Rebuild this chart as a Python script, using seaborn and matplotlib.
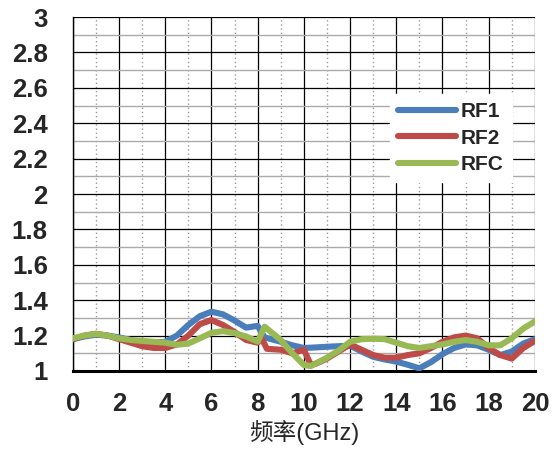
import pandas as pd
import matplotlib
matplotlib.use("Agg")
import matplotlib.pyplot as plt
from matplotlib.ticker import MultipleLocator
import seaborn as sns

#---data---
rf1_x = [0, 0.5, 1, 1.5, 2, 2.5, 3, 3.5, 4, 4.5, 5, 5.5, 6, 6.5, 7, 7.5, 8, 8.3, 9, 9.5,
         10, 10.5, 11, 11.5, 12, 12.5, 13, 13.5, 14, 14.5, 15, 15.5, 16, 16.5, 17, 17.5,
         18, 18.5, 19, 19.5, 20]
rf1_y = [1.18, 1.195, 1.205, 1.2, 1.19, 1.175, 1.16, 1.16, 1.165, 1.2, 1.26, 1.31, 1.335,
         1.32, 1.285, 1.245, 1.255, 1.19, 1.165, 1.145, 1.13, 1.133, 1.137, 1.14, 1.143,
         1.11, 1.08, 1.065, 1.053, 1.035, 1.015, 1.05, 1.095, 1.13, 1.15, 1.145, 1.12,
         1.09, 1.11, 1.155, 1.18]

rf2_x = [0, 0.5, 1, 1.5, 2, 2.5, 3, 3.5, 4, 4.5, 5, 5.5, 6, 6.5, 7, 7.5, 8, 8.15, 8.4, 9,
         9.5, 10, 10.3, 10.5, 11, 11.5, 12, 12.5, 13, 13.5, 14, 14.5, 15, 15.5, 16, 16.5,
         17, 17.5, 18, 18.5, 19, 19.5, 20]
rf2_y = [1.18, 1.2, 1.21, 1.2, 1.18, 1.16, 1.14, 1.13, 1.13, 1.15, 1.2, 1.265, 1.288,
         1.26, 1.22, 1.175, 1.16, 1.19, 1.125, 1.12, 1.10, 1.12, 1.035, 1.04, 1.07, 1.11,
         1.15, 1.12, 1.09, 1.075, 1.075, 1.09, 1.10, 1.13, 1.165, 1.19, 1.20, 1.185, 1.13,
         1.09, 1.07, 1.13, 1.17]

rfc_x = [0, 0.5, 1, 1.5, 2, 2.5, 3, 3.5, 4, 4.5, 5, 5.5, 6, 6.5, 7, 7.5, 8, 8.3, 9, 9.5,
         10, 10.3, 11, 11.5, 12, 12.5, 13, 13.5, 14, 14.5, 15, 15.5, 16, 16.5, 17, 17.5,
         18, 18.5, 19, 19.5, 20]
rfc_y = [1.185, 1.2, 1.21, 1.2, 1.185, 1.175, 1.17, 1.165, 1.16, 1.148, 1.155, 1.185,
         1.216, 1.225, 1.214, 1.195, 1.166, 1.25, 1.175, 1.10, 1.034, 1.028, 1.075, 1.115,
         1.165, 1.18, 1.182, 1.18, 1.16, 1.14, 1.13, 1.14, 1.15, 1.165, 1.175, 1.165,
         1.145, 1.145, 1.185, 1.24, 1.28]

series = ["RF1", "RF2", "RFC"]
colors = {"RF1": "#4A7EBB", "RF2": "#BE4B48", "RFC": "#98B954"}

df = pd.concat([
    pd.DataFrame({"freq": rf1_x, "val": rf1_y, "name": "RF1"}),
    pd.DataFrame({"freq": rf2_x, "val": rf2_y, "name": "RF2"}),
    pd.DataFrame({"freq": rfc_x, "val": rfc_y, "name": "RFC"}),
])

#---plot---
sns.set_style("white")
plt.rcParams["font.family"] = ["Liberation Sans", "Noto Sans CJK SC"]

fig = plt.figure(figsize=(5.52, 4.5), dpi=100)
ax = fig.add_axes([0.132, 0.1756, 0.837, 0.7864])

sns.lineplot(data=df, x="freq", y="val", hue="name", hue_order=series,
             palette=colors, estimator=None, sort=False, linewidth=4.4,
             solid_capstyle="round", solid_joinstyle="round", ax=ax, zorder=3)

ax.set_xlim(0, 20)
ax.set_ylim(1, 3)
ax.xaxis.set_major_locator(MultipleLocator(2))
ax.xaxis.set_minor_locator(MultipleLocator(1))
ax.yaxis.set_minor_locator(MultipleLocator(0.1))
ax.set_yticks([1, 1.2, 1.4, 1.6, 1.8, 2, 2.2, 2.4, 2.6, 2.8, 3])
ax.set_yticklabels(["1", "1.2", "1.4", "1.6", "1.8", "2", "2.2", "2.4", "2.6", "2.8", "3"])

# grid: solid black majors, gray minors (dotted on x)
ax.grid(which="major", color="black", linewidth=0.9)
ax.grid(which="minor", axis="y", color="#aaaaaa", linewidth=1.0)
ax.grid(which="minor", axis="x", color="#999999", linewidth=1.0, linestyle=(0, (1, 2)))
ax.set_axisbelow(True)

for s in ["top", "right"]:
    ax.spines[s].set_visible(False)
ax.spines["left"].set_color("black")
ax.spines["left"].set_linewidth(1.0)
ax.spines["bottom"].set_color("black")
ax.spines["bottom"].set_linewidth(2.2)

ax.tick_params(axis="y", which="major", direction="out", length=6, width=1,
               labelsize=18.5, color="black", pad=12)
ax.tick_params(axis="x", which="major", direction="out", length=5, width=1,
               labelsize=18.5, color="black", pad=10)
ax.tick_params(axis="x", which="minor", direction="out", length=5, width=1, color="black")
ax.tick_params(axis="y", which="minor", length=0)
for lab in ax.get_xticklabels() + ax.get_yticklabels():
    lab.set_fontweight("bold")

ax.set_xlabel("频率(GHz)", fontsize=17, labelpad=3)
ax.set_ylabel("")

leg = ax.legend(loc="center", bbox_to_anchor=(0.818, 0.658), frameon=True,
                fancybox=False, edgecolor="white", framealpha=1,
                handlelength=2.8, labelspacing=0.35, handletextpad=0.2,
                prop={"size": 15, "weight": "bold"})
for line in leg.get_lines():
    line.set_linewidth(4.4)

fig.savefig("out.png", dpi=100)
